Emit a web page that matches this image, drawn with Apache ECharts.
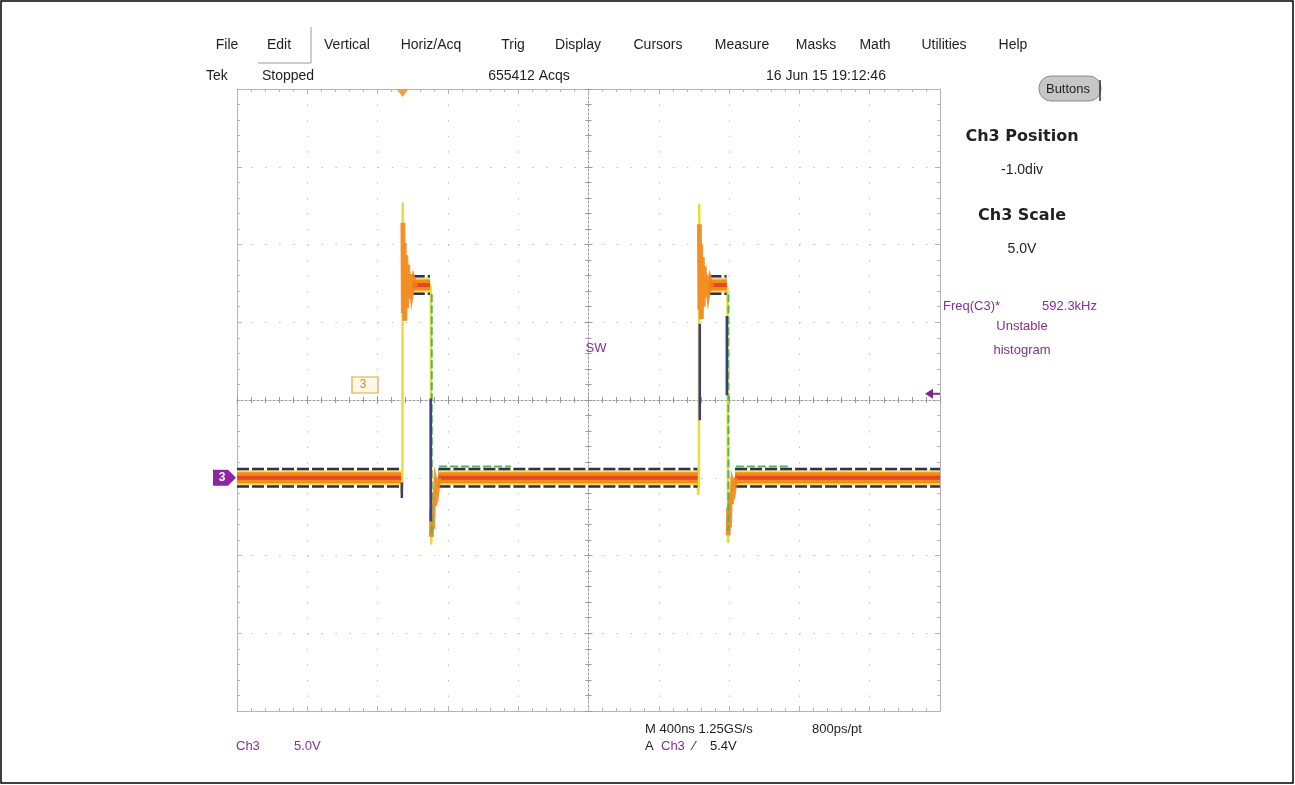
<!DOCTYPE html>
<html>
<head>
<meta charset="utf-8">
<title>SW Ch3</title>
<script src="https://cdn.jsdelivr.net/npm/echarts@6/dist/echarts.min.js"></script>
<style>
  html, body { margin: 0; padding: 0; background: #fff; }
  #main { width: 1295px; height: 785px; }
</style>
</head>
<body>
<div id="main"></div>
<script>
// time axis in ns (10 div x 400 ns), Ch3 in volts (5 V/div, ground 1 div below centre)
const timeRange = [0, 4000];
const voltRange = [-15, 25];
const triggerTimeNs = 942;
const triggerLevelV = 5.4;

// spans where the persistence band sits flat: [startNs, endNs, volts]
const baselineSpans = [[0, 934, 0], [1146, 2620, 0], [2834, 4000, 0]];
const plateauSpans = [[1000, 1098, 12.4], [2688, 2786, 12.4]];

// main (yellow) edge trace, [ns, V]
const edgeTrace = [
  [0, 0], [930, 0], [937, -1.0], [941, -0.4], [943, 17.7], [947, 10.6], [951, 15.1], [955, 10.1],
  [960, 14.3], [965, 10.9], [971, 13.7], [978, 11.5], [986, 13.1], [995, 12.0], [1005, 12.7],
  [1016, 12.3], [1098, 12.4], [1103, 12.2], [1105, -4.3], [1109, -2.0], [1113, -3.3], [1118, -1.0],
  [1124, -1.8], [1131, -0.4], [1139, -0.8], [1148, 0],
  [2618, 0], [2624, -1.1], [2628, -0.4], [2630, 17.6], [2634, 10.8], [2638, 15.0], [2642, 10.2],
  [2647, 14.2], [2652, 11.0], [2658, 13.6], [2665, 11.6], [2673, 13.0], [2682, 12.0], [2692, 12.7],
  [2703, 12.3], [2786, 12.4], [2791, 12.2], [2794, -4.2], [2798, -1.9], [2802, -3.2], [2807, -1.0],
  [2813, -1.7], [2820, -0.4], [2828, -0.7], [2836, 0], [4000, 0]
];

// orange ringing after each edge
const ringTrace = [
  [944, 16.4], [947, 10.6], [951, 15.1], [955, 10.1], [960, 14.3], [965, 10.9], [971, 13.7],
  [978, 11.5], [986, 13.1], [995, 12.0], [1005, 12.7], [1016, 12.3], '-',
  [1106, -3.8], [1109, -2.0], [1113, -3.3], [1118, -1.0], [1124, -1.8], [1131, -0.4], [1139, -0.8], [1148, 0], '-',
  [2631, 16.3], [2634, 10.8], [2638, 15.0], [2642, 10.2], [2647, 14.2], [2652, 11.0], [2658, 13.6],
  [2665, 11.6], [2673, 13.0], [2682, 12.0], [2692, 12.7], [2703, 12.3], '-',
  [2795, -3.7], [2798, -1.9], [2802, -3.2], [2807, -1.0], [2813, -1.7], [2820, -0.4], [2828, -0.7], [2836, 0]
];

// rare persistence hits (blue) and green hits
const rareHits = [
  [[1102, 5.1], [1102, -2.8]], [[2633, 9.9], [2633, 3.7]], [[2787, 10.4], [2787, 5.3]], [[938, -0.3], [938, -1.3]]
];
const greenHits = [
  [[1108, 11.8], [1108, -3.6]], [[1150, 0.72], [1560, 0.72]], [[2838, 0.72], [3150, 0.72]], [[2796, 11.8], [2796, -3.4]]
];

const menuItems = ['File', 'Edit', 'Vertical', 'Horiz/Acq', 'Trig', 'Display', 'Cursors', 'Measure', 'Masks', 'Math', 'Utilities', 'Help'];
const menuX = [227, 279, 347, 431, 513, 578, 658, 742, 816, 875, 944, 1013];

const bandData = [];
baselineSpans.concat(plateauSpans).forEach(([a, b, v]) => bandData.push([a, v], [b, v], '-'));
const flatten = segs => segs.reduce((acc, s) => acc.concat(s, ['-']), []);

const chart = echarts.init(document.getElementById('main'));

const gridCol = '#b4b4b4';
const font = "'Liberation Sans', Arial, sans-serif";
const purple = '#86308f';

function frameAxis(extra) {
  return Object.assign({
    type: 'value',
    axisLine: { show: true, onZero: false, lineStyle: { color: gridCol } },
    axisTick: { show: true, inside: true, length: 5, lineStyle: { color: gridCol } },
    minorTick: { show: true, splitNumber: 5, length: 3, lineStyle: { color: gridCol } },
    axisLabel: { show: false },
    splitLine: { show: false },
    minorSplitLine: { show: false }
  }, extra);
}
function centreAxis(extra, inside) {
  return Object.assign({
    type: 'value',
    axisLine: { show: true, onZero: true, lineStyle: { color: '#9a9a9a', type: [2, 2] } },
    axisTick: { show: true, inside: inside, length: 4, lineStyle: { color: '#9a9a9a' } },
    minorTick: { show: true, splitNumber: 5, length: 3, lineStyle: { color: '#9a9a9a' } },
    axisLabel: { show: false },
    splitLine: { show: false }
  }, extra);
}

function line(name, data, color, width, type, opacity) {
  return {
    name: name, type: 'line', data: data, showSymbol: false, symbol: 'none', silent: true,
    connectNulls: false,
    lineStyle: { color: color, width: width, type: type || 'solid', opacity: opacity == null ? 1 : opacity, cap: 'butt', join: 'miter' }
  };
}

chart.setOption({
  animation: false,
  backgroundColor: '#fff',
  grid: { left: 237, top: 89, width: 703, height: 622 },
  xAxis: [
    frameAxis({ min: timeRange[0], max: timeRange[1], interval: 400, position: 'bottom',
      splitLine: { show: true, lineStyle: { color: '#c2c2c2', type: [1.5, 14.05] } } }),
    frameAxis({ min: timeRange[0], max: timeRange[1], interval: 400, position: 'top' }),
    centreAxis({ min: timeRange[0], max: timeRange[1], interval: 400, position: 'bottom', axisLine: { show: true, onZero: true, onZeroAxisIndex: 4, lineStyle: { color: '#9a9a9a', type: [2, 2] } } }, false),
    centreAxis({ min: timeRange[0], max: timeRange[1], interval: 400, position: 'bottom', axisLine: { show: false, onZero: true, onZeroAxisIndex: 4 } }, true),
    { type: 'value', min: -2000, max: 2000, show: false, axisLine: { onZero: false } }
  ],
  yAxis: [
    frameAxis({ min: voltRange[0], max: voltRange[1], interval: 5, position: 'left',
      splitLine: { show: true, lineStyle: { color: '#c2c2c2', type: [1.5, 12.56] } } }),
    frameAxis({ min: voltRange[0], max: voltRange[1], interval: 5, position: 'right' }),
    centreAxis({ min: voltRange[0], max: voltRange[1], interval: 5, position: 'left', axisLine: { show: true, onZero: true, onZeroAxisIndex: 4, lineStyle: { color: '#9a9a9a', type: [2, 2] } } }, false),
    centreAxis({ min: voltRange[0], max: voltRange[1], interval: 5, position: 'left', axisLine: { show: false, onZero: true, onZeroAxisIndex: 4 } }, true),
    { type: 'value', min: -20, max: 20, show: false, axisLine: { onZero: false } }
  ],
  series: [
    line('edge', edgeTrace, '#e6df3a', 2.5),
    line('bandNavy', bandData, '#2c2d6c', 20, [12, 3]),
    line('bandYellow', bandData, '#efe15a', 15),
    line('bandOrange', bandData, '#f38a1e', 11),
    line('bandRed', bandData, '#e4481d', 4),
    line('ringing', ringTrace, '#f2821c', 5, 'solid', 0.85),
    line('green', flatten(greenHits), '#53b45a', 2, [8, 3]),
    line('rare', flatten(rareHits), '#3b3a8e', 2.5)
  ]
});

// markers placed through the axes
const x0 = chart.convertToPixel({ xAxisIndex: 0 }, triggerTimeNs);
const yGnd = chart.convertToPixel({ yAxisIndex: 0 }, 0);
const yTrig = chart.convertToPixel({ yAxisIndex: 0 }, triggerLevelV);

function txt(text, x, y, o) {
  o = o || {};
  return {
    type: 'text', x: x, y: y, silent: true, z: 100,
    style: {
      text: text, fill: o.fill || '#1e1e1e', font: o.font || ('14px ' + font),
      textAlign: o.align || 'center', textVerticalAlign: 'middle'
    }
  };
}

const graphics = [];
graphics.push({ type: 'rect', shape: { x: 1, y: 1, width: 1292, height: 782 }, style: { fill: 'none', stroke: '#000', lineWidth: 1.5 }, silent: true });
menuItems.forEach((m, i) => graphics.push(txt(m, menuX[i], 45)));
graphics.push({ type: 'polyline', shape: { points: [[258, 63], [311, 63], [311, 27]] }, style: { stroke: '#9a9a9a', lineWidth: 1, fill: 'none' }, silent: true });
graphics.push(txt('Tek', 206, 76, { align: 'left' }));
graphics.push(txt('Stopped', 262, 76, { align: 'left' }));
graphics.push(txt('655412 Acqs', 529, 76));
graphics.push(txt('16 Jun 15 19:12:46', 826, 76));

// Buttons pill
graphics.push({ type: 'rect', shape: { x: 1039, y: 76, width: 62, height: 25, r: 12 }, style: { fill: '#c6c6c6', stroke: '#8c8c8c', lineWidth: 1 }, silent: true });
graphics.push(txt('Buttons', 1068, 89, { font: '13px ' + font }));
graphics.push({ type: 'line', shape: { x1: 1100, y1: 80, x2: 1100, y2: 101 }, style: { stroke: '#333', lineWidth: 1.5 }, silent: true });

// right panel
graphics.push(txt('Ch3 Position', 1022, 137, { font: "bold 16px 'DejaVu Sans', sans-serif", fill: '#222' }));
graphics.push(txt('-1.0div', 1022, 170));
graphics.push(txt('Ch3 Scale', 1022, 216, { font: "bold 16px 'DejaVu Sans', sans-serif", fill: '#222' }));
graphics.push(txt('5.0V', 1022, 249));
graphics.push(txt('Freq(C3)*', 943, 306, { align: 'left', fill: purple, font: '13px ' + font }));
graphics.push(txt('592.3kHz', 1097, 306, { align: 'right', fill: purple, font: '13px ' + font }));
graphics.push(txt('Unstable', 1022, 326, { fill: purple, font: '13px ' + font }));
graphics.push(txt('histogram', 1022, 350, { fill: purple, font: '13px ' + font }));

// bottom readouts
graphics.push(txt('Ch3', 236, 746, { align: 'left', fill: purple, font: '13px ' + font }));
graphics.push(txt('5.0V', 294, 746, { align: 'left', fill: purple, font: '13px ' + font }));
graphics.push(txt('M 400ns 1.25GS/s', 645, 729, { align: 'left', font: '13px ' + font }));
graphics.push(txt('800ps/pt', 812, 729, { align: 'left', font: '13px ' + font }));
graphics.push(txt('A', 645, 746, { align: 'left', font: '13px ' + font }));
graphics.push(txt('Ch3', 661, 746, { align: 'left', fill: purple, font: '13px ' + font }));
graphics.push(txt('\u2044', 693, 746, { align: 'left', font: '13px ' + font }));
graphics.push(txt('5.4V', 710, 746, { align: 'left', font: '13px ' + font }));

// waveform label and reference marker
graphics.push(txt('SW', 596, 348, { fill: purple, font: '13px ' + font }));
graphics.push({ type: 'rect', shape: { x: 352, y: 377, width: 26, height: 16 }, style: { fill: '#fff8e8', stroke: '#e3a445', lineWidth: 1.2 }, silent: true, z: 100 });
graphics.push(txt('3', 363, 385, { fill: '#d98a1e', font: '12px ' + font }));

// ground marker (Ch3) at 0 V
graphics.push({ type: 'polygon', shape: { points: [[213, yGnd - 8], [228, yGnd - 8], [236, yGnd], [228, yGnd + 8], [213, yGnd + 8]] }, style: { fill: '#8e25a3' }, silent: true, z: 100 });
graphics.push(txt('3', 222, yGnd, { fill: '#fff', font: 'bold 12px ' + font }));

// trigger level arrow at right edge
graphics.push({ type: 'polygon', shape: { points: [[925, yTrig], [933, yTrig - 5], [933, yTrig + 5]] }, style: { fill: '#7a2a8c' }, silent: true, z: 100 });
graphics.push({ type: 'line', shape: { x1: 930, y1: yTrig, x2: 940, y2: yTrig }, style: { stroke: '#7a2a8c', lineWidth: 2 }, silent: true, z: 100 });

// trigger position marker on top edge
graphics.push({ type: 'polygon', shape: { points: [[x0 - 6, 89], [x0 + 6, 89], [x0, 97]] }, style: { fill: '#eea23a' }, silent: true, z: 100 });

chart.setOption({ graphic: graphics });
</script>
</body>
</html>
